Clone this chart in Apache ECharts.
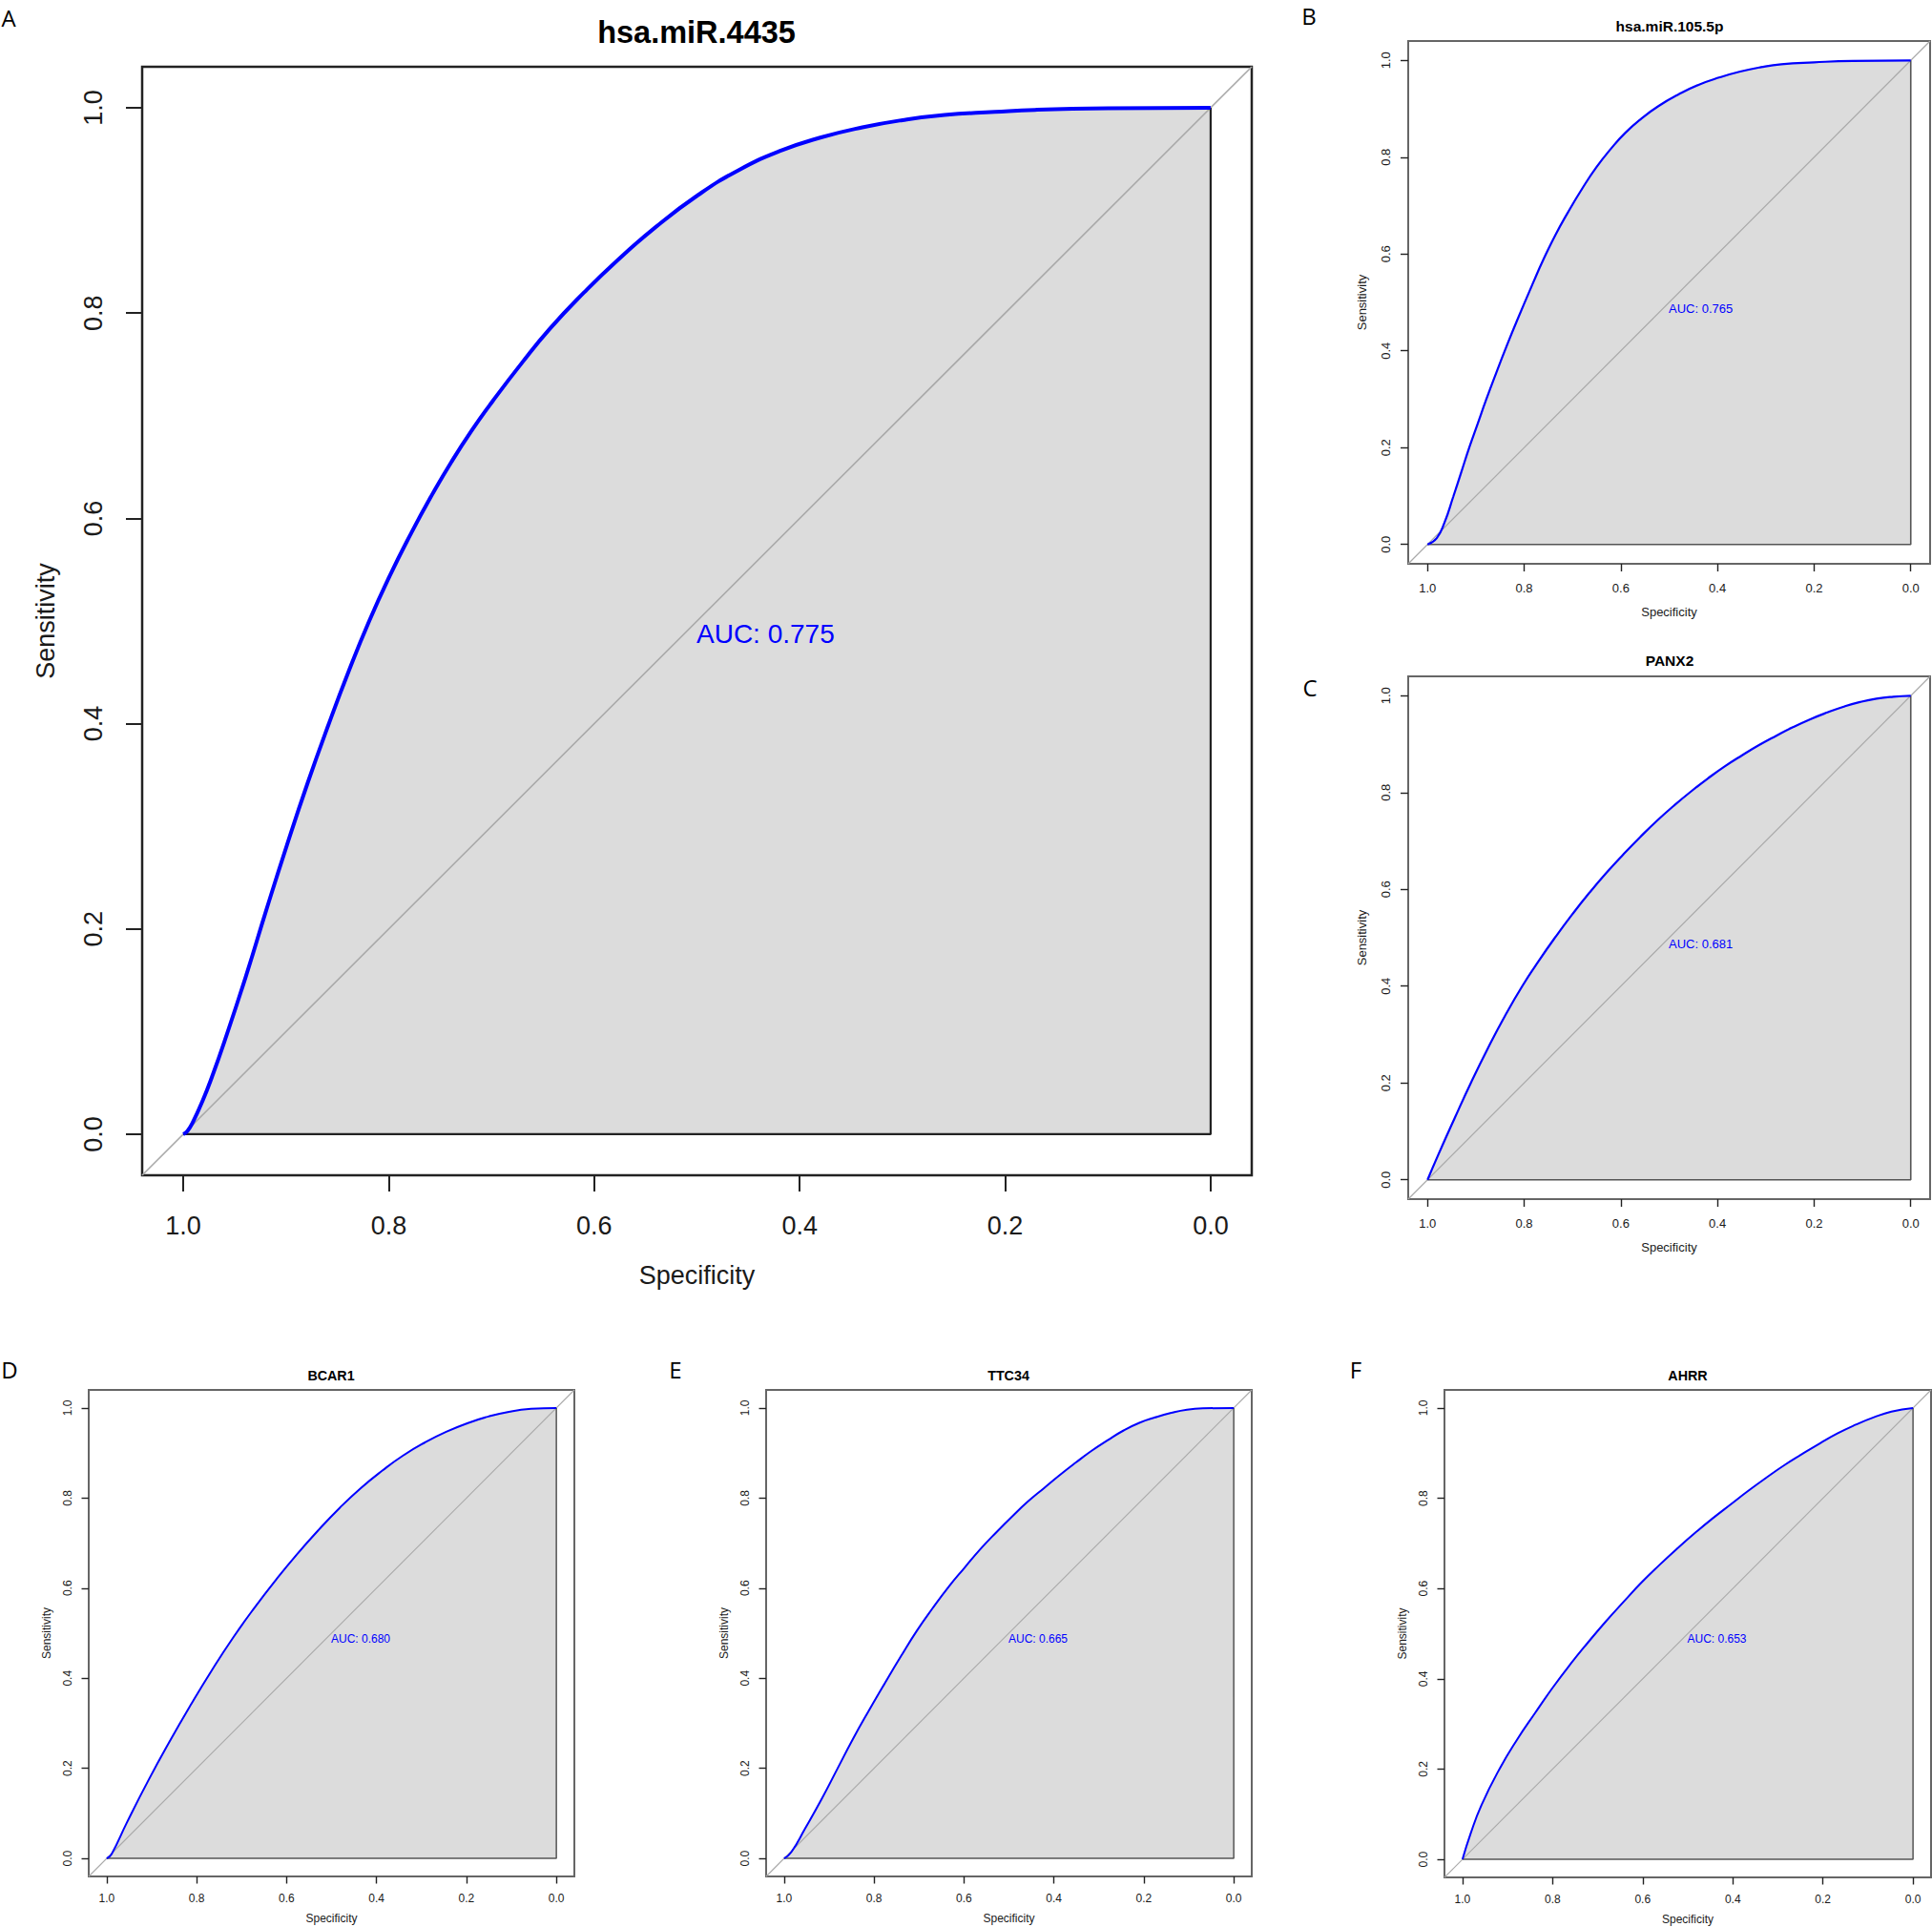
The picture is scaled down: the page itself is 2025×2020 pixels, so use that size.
<!DOCTYPE html>
<html>
<head>
<meta charset="utf-8">
<style>html,body{margin:0;padding:0;background:#fff;}#c{width:2025px;height:2020px;}</style>
<script src="https://cdn.jsdelivr.net/npm/echarts@6/dist/echarts.min.js"></script>
</head>
<body>
<div id="c"></div>
<script>
// ---- data ----
const panelTitles = ['hsa.miR.4435', 'hsa.miR.105.5p', 'PANX2', 'BCAR1', 'TTC34', 'AHRR'];
const panelLetters = ['A', 'B', 'C', 'D', 'E', 'F'];
const aucLabels = ['AUC: 0.775', 'AUC: 0.765', 'AUC: 0.681', 'AUC: 0.680', 'AUC: 0.665', 'AUC: 0.653'];
const tickValues = [0, 0.2, 0.4, 0.6, 0.8, 1.0];
const tickLabels = ['0.0', '0.2', '0.4', '0.6', '0.8', '1.0'];

const specA = [1, 0.996, 0.991, 0.981, 0.972, 0.96, 0.939, 0.919, 0.899, 0.879, 0.859, 0.839, 0.819, 0.799, 0.779, 0.759, 0.739, 0.719, 0.699, 0.67, 0.643, 0.61, 0.579, 0.54, 0.499, 0.46, 0.419, 0.38, 0.339, 0.3, 0.259, 0.21, 0.171, 0.1, 0];
const sensA = [0, 0.003, 0.011, 0.033, 0.056, 0.09, 0.154, 0.219, 0.282, 0.342, 0.398, 0.451, 0.5, 0.544, 0.584, 0.621, 0.655, 0.686, 0.714, 0.752, 0.785, 0.82, 0.85, 0.884, 0.915, 0.939, 0.958, 0.971, 0.981, 0.988, 0.993, 0.996, 0.998, 0.9995, 1];

const specB = [1, 0.981, 0.965, 0.947, 0.93, 0.913, 0.896, 0.879, 0.858, 0.837, 0.815, 0.78, 0.76, 0.735, 0.71, 0.68, 0.65, 0.62, 0.591, 0.557, 0.523, 0.48, 0.438, 0.395, 0.353, 0.31, 0.268, 0.2, 0.12, 0];
const sensB = [0, 0.013, 0.045, 0.098, 0.15, 0.202, 0.25, 0.298, 0.354, 0.408, 0.462, 0.544, 0.589, 0.64, 0.685, 0.735, 0.78, 0.818, 0.85, 0.88, 0.905, 0.93, 0.95, 0.965, 0.977, 0.986, 0.992, 0.996, 0.999, 1];

const specC = [1, 0.979, 0.944, 0.909, 0.874, 0.839, 0.804, 0.77, 0.735, 0.7, 0.665, 0.63, 0.595, 0.56, 0.525, 0.49, 0.455, 0.42, 0.385, 0.349, 0.314, 0.279, 0.244, 0.209, 0.174, 0.14, 0.105, 0.071, 0.036, 0];
const sensC = [0, 0.049, 0.127, 0.203, 0.274, 0.34, 0.4, 0.452, 0.502, 0.549, 0.593, 0.634, 0.672, 0.708, 0.742, 0.773, 0.802, 0.829, 0.854, 0.877, 0.898, 0.917, 0.935, 0.951, 0.965, 0.977, 0.987, 0.994, 0.998, 1];

const specD = [1, 0.989, 0.955, 0.908, 0.861, 0.813, 0.766, 0.719, 0.671, 0.624, 0.577, 0.529, 0.482, 0.435, 0.387, 0.34, 0.293, 0.245, 0.198, 0.151, 0.103, 0.056, 0];
const sensD = [0, 0.01, 0.08, 0.172, 0.258, 0.341, 0.418, 0.49, 0.557, 0.618, 0.675, 0.729, 0.778, 0.822, 0.861, 0.895, 0.923, 0.947, 0.966, 0.981, 0.992, 0.998, 1];

const specE = [1, 0.984, 0.953, 0.917, 0.882, 0.847, 0.811, 0.776, 0.74, 0.705, 0.67, 0.634, 0.599, 0.564, 0.528, 0.493, 0.458, 0.422, 0.387, 0.351, 0.316, 0.281, 0.245, 0.21, 0.175, 0.139, 0.104, 0.069, 0];
const sensE = [0, 0.014, 0.067, 0.131, 0.198, 0.265, 0.329, 0.389, 0.449, 0.505, 0.555, 0.603, 0.645, 0.686, 0.724, 0.759, 0.792, 0.822, 0.851, 0.879, 0.905, 0.928, 0.95, 0.967, 0.979, 0.989, 0.996, 0.999, 1];

const specF = [1, 0.982, 0.958, 0.918, 0.879, 0.839, 0.8, 0.76, 0.721, 0.681, 0.642, 0.602, 0.562, 0.523, 0.483, 0.444, 0.404, 0.365, 0.325, 0.286, 0.246, 0.206, 0.167, 0.127, 0.088, 0.048, 0];
const sensF = [0, 0.057, 0.12, 0.2, 0.265, 0.324, 0.38, 0.433, 0.481, 0.528, 0.571, 0.614, 0.653, 0.689, 0.724, 0.756, 0.787, 0.817, 0.846, 0.873, 0.898, 0.922, 0.944, 0.963, 0.979, 0.992, 1];

const specs = [specA, specB, specC, specD, specE, specF];
const senss = [sensA, sensB, sensC, sensD, sensE, sensF];
const polygonCorner = [[1, 0], [0, 0], [0, 1]];
const aucAnchor = [0.5, 0.5];
const axisMin = -0.04, axisMax = 1.04;

// ---- layout / style ----
const FONT = '"Liberation Sans", Arial, Helvetica, sans-serif';
const panels = [
  {grid: {left: 149, top: 70, width: 1163, height: 1162}, fs: 27, afs: 28, tfs: 32.5, tick: 17, xm: 39, xg: 91, ym: 37.5, yg: 88, curveW: 4, borderW: 2.2, boxW: 2.5, boxC: '#222', diagW: 1.6, title: [730, 34], letter: [9, 18]},
  {grid: {left: 1476, top: 43, width: 547, height: 548}, fs: 13, afs: 13, tfs: 15.5, tick: 8, xm: 18.5, xg: 43.5, ym: 17.5, yg: 42.5, curveW: 2.2, borderW: 1.6, boxC: '#666', boxW: 2, diagW: 1.2, title: [1750, 27], letter: [1372, 16]},
  {grid: {left: 1476, top: 709, width: 547, height: 548}, fs: 13, afs: 13, tfs: 15.5, tick: 8, xm: 18.5, xg: 43.5, ym: 17.5, yg: 42.5, curveW: 2.2, borderW: 1.6, boxC: '#666', boxW: 2, diagW: 1.2, title: [1750, 692], letter: [1373, 720]},
  {grid: {left: 93, top: 1457, width: 509, height: 510}, fs: 12, afs: 12, tfs: 14.3, tick: 7.5, xm: 17, xg: 38, ym: 16, yg: 38, curveW: 2, borderW: 1.5, boxC: '#666', boxW: 2, diagW: 1.1, title: [347, 1442], letter: [10, 1435]},
  {grid: {left: 803, top: 1457, width: 509, height: 510}, fs: 12, afs: 12, tfs: 14.3, tick: 7.5, xm: 17, xg: 38, ym: 16, yg: 38, curveW: 2, borderW: 1.5, boxC: '#666', boxW: 2, diagW: 1.1, title: [1057, 1442], letter: [708, 1435]},
  {grid: {left: 1514, top: 1457, width: 510, height: 511}, fs: 12, afs: 12, tfs: 14.3, tick: 7.5, xm: 17, xg: 38, ym: 16, yg: 38, curveW: 2, borderW: 1.5, boxC: '#666', boxW: 2, diagW: 1.1, title: [1769, 1442], letter: [1421, 1435]}
];

const fmt = v => { const i = tickValues.findIndex(t => Math.abs(t - v) < 1e-9); return i >= 0 ? tickLabels[i] : ''; };

const grids = [], xAxes = [], yAxes = [], series = [], graphics = [];
panels.forEach((p, i) => {
  grids.push(Object.assign({show: true, borderColor: p.boxC, borderWidth: p.boxW, backgroundColor: 'transparent', containLabel: false}, p.grid));
  const common = {
    type: 'value', gridIndex: i, min: axisMin, max: axisMax,
    splitLine: {show: false}, axisLine: {show: false, onZero: false},
    axisTick: {show: true, inside: false, length: p.tick, customValues: tickValues, lineStyle: {color: '#222', width: i === 0 ? 2 : 1.4}},
    axisLabel: {show: true, customValues: tickValues, formatter: fmt, fontFamily: FONT, fontSize: p.fs, color: '#1a1a1a'},
    nameLocation: 'middle', nameTextStyle: {fontFamily: FONT, fontSize: p.fs, color: '#1a1a1a'}
  };
  xAxes.push(Object.assign({}, common, {inverse: true, position: 'bottom', name: 'Specificity', nameGap: p.xg,
    axisLabel: Object.assign({}, common.axisLabel, {margin: p.xm})}));
  yAxes.push(Object.assign({}, common, {position: 'left', name: 'Sensitivity', nameGap: p.yg,
    axisLabel: Object.assign({}, common.axisLabel, {margin: p.ym, rotate: 90})}));

  const pts = specs[i].map((s, k) => [s, senss[i][k]]);
  series.push({type: 'line', xAxisIndex: i, yAxisIndex: i, data: pts, smooth: 0.5, showSymbol: false, silent: true,
    lineStyle: {width: 0, opacity: 0}, areaStyle: {color: '#DCDCDC', opacity: 1}, z: 1});
  series.push({type: 'line', xAxisIndex: i, yAxisIndex: i, data: [[axisMax, axisMin], [axisMin, axisMax]], showSymbol: false, silent: true,
    lineStyle: {color: '#A9A9A9', width: p.diagW}, z: 2});
  series.push({type: 'line', xAxisIndex: i, yAxisIndex: i, data: polygonCorner, showSymbol: false, silent: true,
    lineStyle: {color: i === 0 ? '#222' : '#555', width: p.borderW}, z: 3});
  series.push({type: 'line', xAxisIndex: i, yAxisIndex: i, data: pts, smooth: 0.5, showSymbol: false, silent: true,
    lineStyle: {color: '#0000FF', width: p.curveW}, z: 4});
  series.push({type: 'scatter', xAxisIndex: i, yAxisIndex: i, data: [aucAnchor], symbol: 'rect', symbolSize: 1, itemStyle: {color: 'rgba(0,0,0,0)'}, silent: true, z: 5,
    label: {show: true, formatter: aucLabels[i], position: [0, 0], align: 'left', verticalAlign: 'top', fontFamily: FONT, fontSize: p.afs, color: '#0000FF', opacity: 1}});

  graphics.push({type: 'text', x: p.title[0], y: p.title[1], style: {text: panelTitles[i], fontFamily: FONT, fontWeight: 'bold', fontSize: p.tfs, fill: '#000', align: 'center', verticalAlign: 'middle'}});
  graphics.push({type: 'text', x: p.letter[0], y: p.letter[1], style: {text: panelLetters[i], fontFamily: '"Open Sans", sans-serif', fontSize: 24, fill: '#000', align: 'center', verticalAlign: 'middle'}});
});

const chart = echarts.init(document.getElementById('c'), null, {renderer: 'svg', width: 2025, height: 2020});
chart.setOption({
  animation: false,
  backgroundColor: '#ffffff',
  grid: grids, xAxis: xAxes, yAxis: yAxes, series: series, graphic: graphics
});
</script>
</body>
</html>
